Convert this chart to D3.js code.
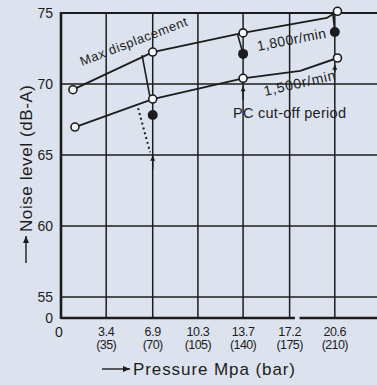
<!DOCTYPE html>
<html>
<head>
<meta charset="utf-8">
<script src="https://cdn.jsdelivr.net/npm/d3@7"></script>
<style>
html,body{margin:0;padding:0;background:#dde3ee;overflow:hidden;}
svg{display:block;font-family:"Liberation Sans",Arial,sans-serif;}
</style>
</head>
<body>
<svg id="chart" width="377" height="385"></svg>
<script>
// ---- data ----
const xTickValues = [3.4, 6.9, 10.3, 13.7, 17.2, 20.6];
const xTickBar = ["(35)", "(70)", "(105)", "(140)", "(175)", "(210)"];
const yTickValues = [0, 55, 60, 65, 70, 75];
const yGridValues = [55, 60, 65, 70, 75];

const maxDispX = [0.9, 6.9, 13.7, 20.0, 20.8];
const maxDispY = [69.6, 72.25, 73.6, 74.65, 75.12];
const maxDispMarkX = [0.9, 6.9, 13.7, 20.8];
const maxDispMarkY = [69.6, 72.25, 73.6, 75.12];

const lowX = [1.05, 6.9, 13.7, 18.0, 20.8];
const lowY = [66.97, 68.94, 70.4, 70.92, 71.83];
const lowMarkX = [1.05, 6.9, 13.7, 20.8];
const lowMarkY = [66.97, 68.94, 70.4, 71.83];

const cutX = [6.9, 13.7, 20.6];
const cutY = [67.82, 72.12, 73.66];

// connector segments [x1,y1,x2,y2]
const connectors = [
  [6.1, 72.04, 6.7, 69.05],
  [13.3, 73.45, 13.7, 72.12],
  [20.45, 75.0, 20.6, 73.66]
];
const dottedSeg = [5.8, 68.3, 6.7, 65.2];
// small up arrows: [x, tail, head]
const upArrows = [[6.9, 64.0, 64.95], [13.7, 68.9, 69.85], [20.6, 70.85, 71.35]];

// ---- scales ----
const svg = d3.select("#chart");
const x = d3.scaleLinear().domain([0, 24]).range([61, 380]);
const y = d3.scaleLinear().domain([0, 55, 75]).range([318, 297, 13]);
const ink = "#1c1c1c";

svg.append("rect").attr("width", 377).attr("height", 385).attr("fill", "#dde3ee");

// horizontal gridlines
svg.append("g").selectAll("line").data(yGridValues).join("line")
  .attr("x1", x(0)).attr("x2", 377)
  .attr("y1", d => y(d)).attr("y2", d => y(d))
  .attr("stroke", ink).attr("stroke-width", d => d === 75 ? 2 : 1.5);

// vertical gridlines
svg.append("g").selectAll("line").data(xTickValues).join("line")
  .attr("x1", d => x(d)).attr("x2", d => x(d))
  .attr("y1", y(75)).attr("y2", y(0))
  .attr("stroke", ink).attr("stroke-width", 1.5);

// axes lines
svg.append("line").attr("x1", x(0)).attr("x2", x(0)).attr("y1", y(75) - 1).attr("y2", y(0) + 1)
  .attr("stroke", ink).attr("stroke-width", 2.6);
svg.append("line").attr("x1", x(0)).attr("x2", x(17.6)).attr("y1", y(0)).attr("y2", y(0))
  .attr("stroke", ink).attr("stroke-width", 2.4);
svg.append("line").attr("x1", x(17.95)).attr("x2", 377).attr("y1", y(0)).attr("y2", y(0))
  .attr("stroke", ink).attr("stroke-width", 2.4);

// y tick labels
svg.append("g").selectAll("text").data(yTickValues).join("text")
  .attr("x", 53).attr("y", d => y(d) + 5)
  .attr("text-anchor", "end").attr("font-size", 14).attr("fill", ink)
  .text(d => d);

// x tick labels
const xt = svg.append("g");
xt.append("text").attr("x", x(0) - 2).attr("y", 337).attr("text-anchor", "middle")
  .attr("font-size", 14).attr("fill", ink).text("0");
xt.selectAll("text.v").data(xTickValues).join("text").attr("class", "v")
  .attr("x", d => x(d)).attr("y", 336).attr("text-anchor", "middle")
  .attr("font-size", 12.5).attr("fill", ink).attr("letter-spacing", -0.4).text(d => d);
xt.selectAll("text.b").data(xTickBar).join("text").attr("class", "b")
  .attr("x", (d, i) => x(xTickValues[i])).attr("y", 349).attr("text-anchor", "middle")
  .attr("font-size", 12.5).attr("fill", ink).attr("letter-spacing", -0.6).text(d => d);

// axis titles with arrows
function arrow(g, x1, y1, x2, y2, L = 7, W = 3) {
  g.append("line").attr("x1", x1).attr("y1", y1).attr("x2", x2).attr("y2", y2)
    .attr("stroke", ink).attr("stroke-width", 1.4);
  const ang = Math.atan2(y2 - y1, x2 - x1);
  const p = [
    [x2, y2],
    [x2 - L * Math.cos(ang) + W * Math.sin(ang), y2 - L * Math.sin(ang) - W * Math.cos(ang)],
    [x2 - L * Math.cos(ang) - W * Math.sin(ang), y2 - L * Math.sin(ang) + W * Math.cos(ang)]
  ];
  g.append("path").attr("d", "M" + p.join("L") + "Z").attr("fill", ink);
}
const titles = svg.append("g");
arrow(titles, 102, 369, 130, 369);
titles.append("text").attr("x", 133).attr("y", 375).attr("font-size", 17).attr("fill", ink)
  .attr("textLength", 162).text("Pressure Mpa  (bar)");
arrow(titles, 26, 263, 26, 236);
titles.append("text").attr("transform", "translate(32,232) rotate(-90)")
  .attr("font-size", 17).attr("fill", ink).attr("textLength", 147).text("Noise level (dB-A)");

// data lines
const line = d3.line().x(d => x(d[0])).y(d => y(d[1]));
svg.append("path").datum(maxDispX.map((v, i) => [v, maxDispY[i]]))
  .attr("d", line).attr("fill", "none").attr("stroke", ink).attr("stroke-width", 1.9);
svg.append("path").datum(lowX.map((v, i) => [v, lowY[i]]))
  .attr("d", line).attr("fill", "none").attr("stroke", ink).attr("stroke-width", 1.9);

// connectors
svg.append("g").selectAll("line").data(connectors).join("line")
  .attr("x1", d => x(d[0])).attr("y1", d => y(d[1]))
  .attr("x2", d => x(d[2])).attr("y2", d => y(d[3]))
  .attr("stroke", ink).attr("stroke-width", 1.6);
svg.append("line")
  .attr("x1", x(dottedSeg[0])).attr("y1", y(dottedSeg[1]))
  .attr("x2", x(dottedSeg[2])).attr("y2", y(dottedSeg[3]))
  .attr("stroke", ink).attr("stroke-width", 2).attr("stroke-dasharray", "2,3");

// small up arrows
const ua = svg.append("g");
upArrows.forEach(a => arrow(ua, x(a[0]), y(a[1]), x(a[0]), y(a[2]), 5, 2.5));

// markers
svg.append("g").selectAll("circle").data(maxDispMarkX.map((v, i) => [v, maxDispMarkY[i]])).join("circle")
  .attr("cx", d => x(d[0])).attr("cy", d => y(d[1])).attr("r", 4)
  .attr("fill", "#f4f6fa").attr("stroke", ink).attr("stroke-width", 1.6);
svg.append("g").selectAll("circle").data(lowMarkX.map((v, i) => [v, lowMarkY[i]])).join("circle")
  .attr("cx", d => x(d[0])).attr("cy", d => y(d[1])).attr("r", 4)
  .attr("fill", "#f4f6fa").attr("stroke", ink).attr("stroke-width", 1.6);
svg.append("g").selectAll("circle").data(cutX.map((v, i) => [v, cutY[i]])).join("circle")
  .attr("cx", d => x(d[0])).attr("cy", d => y(d[1])).attr("r", 5)
  .attr("fill", ink);

// annotations
const ann = svg.append("g").attr("fill", ink);
ann.append("text").attr("transform", "translate(82,66) rotate(-21)")
  .attr("font-size", 13).attr("textLength", 114).text("Max displacement");
ann.append("text").attr("transform", "translate(258,51) rotate(-11)")
  .attr("font-size", 14).attr("textLength", 70).text("1,800r/min");
ann.append("text").attr("transform", "translate(265,96) rotate(-13)")
  .attr("font-size", 14).attr("textLength", 73).text("1,500r/min");
ann.append("text").attr("x", 233).attr("y", 118)
  .attr("font-size", 14.5).attr("textLength", 113).text("PC cut-off period");
</script>
</body>
</html>
